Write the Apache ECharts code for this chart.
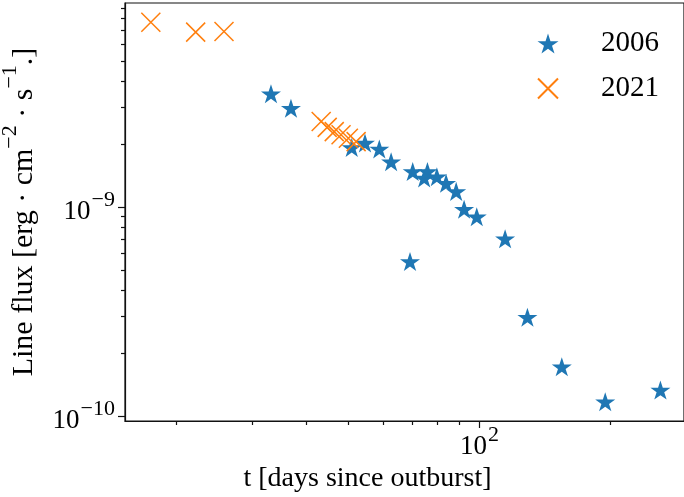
<!DOCTYPE html>
<html>
<head>
<meta charset="utf-8">
<title></title>
<style>
html,body{margin:0;padding:0;background:#fff;}
#main{width:684px;height:497px;}
</style>
<script src="https://cdn.jsdelivr.net/npm/echarts@6/dist/echarts.min.js"></script>
</head>
<body>
<div id="main"></div>
<script>
// 2006 outburst
const t2006=[33.1,36.8,50.8,54.5,58.8,62.6,70.2,74.6,75.9,79.8,83.8,88.4,92.2,98.6,114.6,69.2,129,154.8,194.9,261.2];
const f2006=[3.49e-9,2.98e-9,1.93e-9,2.03e-9,1.90e-9,1.65e-9,1.48e-9,1.38e-9,1.48e-9,1.40e-9,1.30e-9,1.19e-9,9.78e-10,9.0e-10,7.05e-10,5.49e-10,2.97e-10,1.72e-10,1.17e-10,1.33e-10];
// 2021 outburst
const t2021=[17.5,22.2,25.8,43.2,44.6,46.3,48.0,49.9,52.0];
const f2021=[7.69e-9,6.89e-9,6.94e-9,2.57e-9,2.41e-9,2.30e-9,2.22e-9,2.14e-9,2.06e-9];

const xMajor=[100];
const xMinor=[20,30,40,50,60,70,80,90,200];
const yMajor=[1e-10,1e-9];
const yMinor=[2e-10,3e-10,4e-10,5e-10,6e-10,7e-10,8e-10,9e-10,2e-9,3e-9,4e-9,5e-9,6e-9,7e-9,8e-9,9e-9];

const xMin=15.26, xMax=296;
const yMin=9.46e-11, yMax=9.5e-9;

const FONT='Liberation Serif';

// star marker like matplotlib '*'
function starPath(){
  let pts=[];
  for(let i=0;i<10;i++){
    let r=i%2==0?10:3.82;
    let a=-Math.PI/2+i*Math.PI/5;
    pts.push((10+r*Math.cos(a)).toFixed(3)+' '+(10+r*Math.sin(a)).toFixed(3));
  }
  return 'path://M'+pts.join(' L')+' Z';
}

function powLabel(v){
  let e=Math.round(Math.log10(v));
  return '{b|10}{s|'+String(e).replace('-','\u2212')+'}';
}
const tickRich={
  b:{fontFamily:FONT,fontSize:27,color:'#000',verticalAlign:'bottom',lineHeight:36},
  s:{fontFamily:FONT,fontSize:22,color:'#000',verticalAlign:'top',lineHeight:20,padding:[0,0,0,1]}
};
const spine={color:'#111',width:1.2};

window.onload=function(){
  let chart=echarts.init(document.getElementById('main'));
  let option={
    animation:false,
    backgroundColor:'#fff',
    grid:{left:125,top:3,right:0,bottom:76,outerBoundsMode:'none',containLabel:false,
      show:true,borderColor:'#111',borderWidth:1.2,backgroundColor:'transparent'},
    legend:{
      orient:'vertical',left:532,top:24,itemWidth:96,itemHeight:20,itemGap:16,
      textStyle:{fontFamily:FONT,fontSize:29,color:'#000'},
      data:['2006','2021']
    },
    xAxis:[
      {
        type:'log',min:xMin,max:xMax,position:'bottom',
        axisLine:{show:true,onZero:false,lineStyle:spine},
        axisTick:{show:true,customValues:xMajor,length:7,lineStyle:spine},
        axisLabel:{customValues:xMajor,formatter:powLabel,rich:tickRich,margin:3},
        splitLine:{show:false},
        name:'t [days since outburst]',nameLocation:'middle',nameGap:22,
        nameTextStyle:{fontFamily:FONT,fontSize:28,color:'#000',padding:[0,74,0,0]}
      },
      {
        type:'log',min:xMin,max:xMax,position:'bottom',
        axisLine:{show:false},
        axisTick:{show:true,customValues:xMinor,length:4,lineStyle:spine},
        axisLabel:{show:false},splitLine:{show:false}
      }
    ],
    yAxis:[
      {
        type:'log',min:yMin,max:yMax,position:'left',
        axisLine:{show:true,onZero:false,lineStyle:spine},
        axisTick:{show:true,customValues:yMajor,length:7,lineStyle:spine},
        axisLabel:{customValues:yMajor,formatter:powLabel,rich:tickRich,margin:10},
        splitLine:{show:false},
        name:'{n|Line flux [erg \u00b7 cm}{s|\u22122}{n| \u00b7 s}{s|\u22121}{n|.]}',
        nameLocation:'middle',nameGap:86,nameRotate:90,
        nameTextStyle:{rich:{
          n:{fontFamily:FONT,fontSize:30,color:'#000',verticalAlign:'bottom',lineHeight:40},
          s:{fontFamily:FONT,fontSize:22,color:'#000',verticalAlign:'top',lineHeight:20}
        }}
      },
      {
        type:'log',min:yMin,max:yMax,position:'left',
        axisLine:{show:false},
        axisTick:{show:true,customValues:yMinor,length:4,lineStyle:spine},
        axisLabel:{show:false},splitLine:{show:false}
      }
    ],
    series:[
      {
        name:'2006',type:'scatter',xAxisIndex:0,yAxisIndex:0,
        data:t2006.map((t,i)=>[t,f2006[i]]),
        symbol:starPath(),symbolKeepAspect:true,symbolSize:20,
        itemStyle:{color:'#1f77b4',opacity:1},silent:true
      },
      {
        name:'2021',type:'scatter',xAxisIndex:0,yAxisIndex:0,
        data:t2021.map((t,i)=>[t,f2021[i]]),
        symbol:'path://M0 0L10 10M10 0L0 10',symbolSize:19,
        itemStyle:{color:'rgba(0,0,0,0)',borderColor:'#ff7f0e',borderWidth:1.5,opacity:1},silent:true
      }
    ]
  };
  chart.setOption(option);
};
</script>
</body>
</html>
